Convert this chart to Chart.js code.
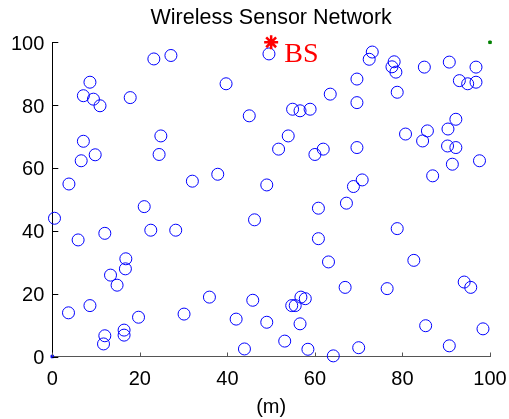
<!DOCTYPE html>
<html>
<head>
<meta charset="utf-8">
<script src="https://cdn.jsdelivr.net/npm/chart.js@4"></script>
<style>
  body { margin: 0; background: #fff; }
  canvas { display: block; }
</style>
</head>
<body>
<canvas id="wsnChart" width="509" height="419"></canvas>
<script>
// sensor node positions (m)
const nodeX = [3.8, 6.6, 7.1, 9.8, 7.1, 8.6, 9.4, 10.9, 17.8, 23.2, 27.1, 39.7, 45.0, 24.8, 24.4, 32.0, 37.8, 49.5, 49.0, 73.1,
               72.4, 78.1, 77.6, 78.5, 78.8, 85.0, 90.7, 96.8, 93.0, 94.9, 96.8, 69.6, 63.5, 69.6, 54.9, 56.6, 58.9, 53.9, 51.7, 60.0,
               61.9, 69.6, 80.7, 85.7, 84.6, 92.2, 90.4, 90.3, 92.2, 91.4, 97.6, 86.9, 70.8, 68.8, 67.2, 60.8, 0.5, 21.0, 12.0, 5.9,
               22.5, 28.2, 46.2, 16.8, 16.7, 13.3, 14.8, 3.7, 8.6, 19.7, 12.0, 11.7, 16.4, 16.4, 30.1, 35.9, 42.0, 43.9, 45.8, 49.0,
               60.8, 78.8, 63.1, 82.6, 66.9, 76.5, 94.1, 95.6, 56.8, 57.8, 54.7, 55.5, 56.6, 53.1, 58.4, 64.2, 70.0, 85.3, 90.7, 98.4];
const nodeY = [54.9, 62.3, 68.5, 64.2, 83.0, 87.3, 81.9, 79.8, 82.4, 94.7, 95.8, 86.8, 76.6, 70.2, 64.3, 55.8, 58.0, 96.3, 54.6, 96.9,
               94.6, 93.8, 92.2, 90.5, 84.1, 92.1, 93.7, 92.1, 87.8, 86.8, 87.3, 88.3, 83.5, 80.8, 78.7, 78.2, 78.7, 70.2, 66.0, 64.3,
               66.0, 66.5, 70.8, 71.8, 68.6, 75.5, 72.4, 67.0, 66.5, 61.2, 62.3, 57.5, 56.2, 54.1, 48.8, 47.2, 44.0, 47.7, 39.2, 37.1,
               40.2, 40.2, 43.5, 31.1, 27.9, 25.9, 22.7, 13.9, 16.2, 12.5, 6.6, 4.0, 8.4, 6.8, 13.5, 18.9, 11.9, 2.4, 17.9, 10.9,
               37.5, 40.7, 30.1, 30.6, 22.0, 21.6, 23.7, 22.0, 18.9, 18.4, 16.2, 16.2, 10.4, 4.9, 2.3, 0.2, 2.8, 9.8, 3.4, 8.8];
// base station and corner markers
const sinkX = [50];
const sinkY = [100];
const sinkLabel = 'BS';
const cornerLo = [0, 0];
const cornerHi = [100, 100];
const axisTicks = [0, 20, 40, 60, 80, 100];

const toPoints = (xs, ys) => xs.map((x, i) => ({ x: x, y: ys[i] }));

Chart.defaults.font.family = "'Liberation Sans', Arial, sans-serif";
Chart.defaults.color = '#000';

// MATLAB style ticks pointing into the plot, plus the BS text
const matlabAxes = {
    id: 'matlabAxes',
    afterDraw(chart) {
        const { ctx, chartArea, scales: { x, y } } = chart;
        ctx.save();
        ctx.lineWidth = 1;
        ctx.strokeStyle = '#555';
        axisTicks.forEach(function(t) {
            const px = Math.round(x.getPixelForValue(t)) + 0.5;
            ctx.beginPath();
            ctx.moveTo(px, chartArea.bottom);
            ctx.lineTo(px, chartArea.bottom - 4);
            ctx.stroke();
        });
        ctx.strokeStyle = '#000';
        axisTicks.forEach(function(t) {
            const py = Math.round(y.getPixelForValue(t)) + 0.5;
            ctx.beginPath();
            ctx.moveTo(chartArea.left, py);
            ctx.lineTo(chartArea.left + 6, py);
            ctx.stroke();
        });
        // label next to the base station
        ctx.fillStyle = '#ff0000';
        ctx.font = "28px 'Liberation Serif', 'Times New Roman', serif";
        ctx.textAlign = 'left';
        ctx.textBaseline = 'middle';
        ctx.fillText(sinkLabel, x.getPixelForValue(53), y.getPixelForValue(96));
        ctx.restore();
    }
};

const ctx = document.getElementById('wsnChart').getContext('2d');
const wsnChart = new Chart(ctx, {
    type: 'scatter',
    data: {
        datasets: [
            {
                label: 'BS',
                data: toPoints(sinkX, sinkY),
                pointStyle: 'star',
                pointRadius: 7,
                borderColor: '#ff0000',
                borderWidth: 2.5,
                clip: false
            },
            {
                label: 'corner hi',
                data: [{ x: cornerHi[0], y: cornerHi[1] }],
                pointStyle: 'rect',
                pointRadius: 1.8,
                backgroundColor: '#008000',
                borderColor: '#008000',
                borderWidth: 1,
                clip: false
            },
            {
                label: 'corner lo',
                data: [{ x: cornerLo[0], y: cornerLo[1] }],
                pointStyle: 'rect',
                pointRadius: 1.8,
                backgroundColor: '#0000ff',
                borderColor: '#0000ff',
                borderWidth: 1,
                clip: false
            },
            {
                label: 'nodes',
                data: toPoints(nodeX, nodeY),
                pointStyle: 'circle',
                pointRadius: 6,
                backgroundColor: 'rgba(0,0,0,0)',
                borderColor: '#0000ff',
                borderWidth: 1,
                clip: false
            }
        ]
    },
    options: {
        responsive: false,
        animation: false,
        layout: { padding: { left: 0, right: 19, top: 0, bottom: 0 } },
        plugins: {
            legend: { display: false },
            tooltip: { enabled: false },
            title: {
                display: true,
                text: 'Wireless Sensor Network',
                fullSize: false,
                color: '#000',
                font: { size: 21.5, weight: 'normal' },
                padding: { top: 5.4, bottom: 11.1 }
            }
        },
        scales: {
            x: {
                type: 'linear',
                min: 0,
                max: 100,
                afterBuildTicks: function(scale) { scale.ticks = axisTicks.map(v => ({ value: v })); },
                afterFit: function(scale) {
                    scale.height = 62.5;
                    scale.paddingLeft = 0;
                    scale.paddingRight = 19;
                },
                grid: { display: false, drawTicks: false },
                border: { display: true, color: '#555', width: 1 },
                ticks: { padding: 11, font: { size: 20 }, color: '#000', maxRotation: 0 },
                title: { display: true, text: '(m)', font: { size: 20 }, color: '#000', padding: { top: 0, bottom: 0 } }
            },
            y: {
                type: 'linear',
                min: 0,
                max: 100,
                afterBuildTicks: function(scale) { scale.ticks = axisTicks.map(v => ({ value: v })); },
                afterFit: function(scale) { scale.width = 52.3; },
                grid: { display: false, drawTicks: false },
                border: { display: true, color: '#000', width: 1 },
                ticks: { padding: 8, labelOffset: 2, font: { size: 20 }, color: '#000' }
            }
        }
    },
    plugins: [matlabAxes]
});
</script>
</body>
</html>
